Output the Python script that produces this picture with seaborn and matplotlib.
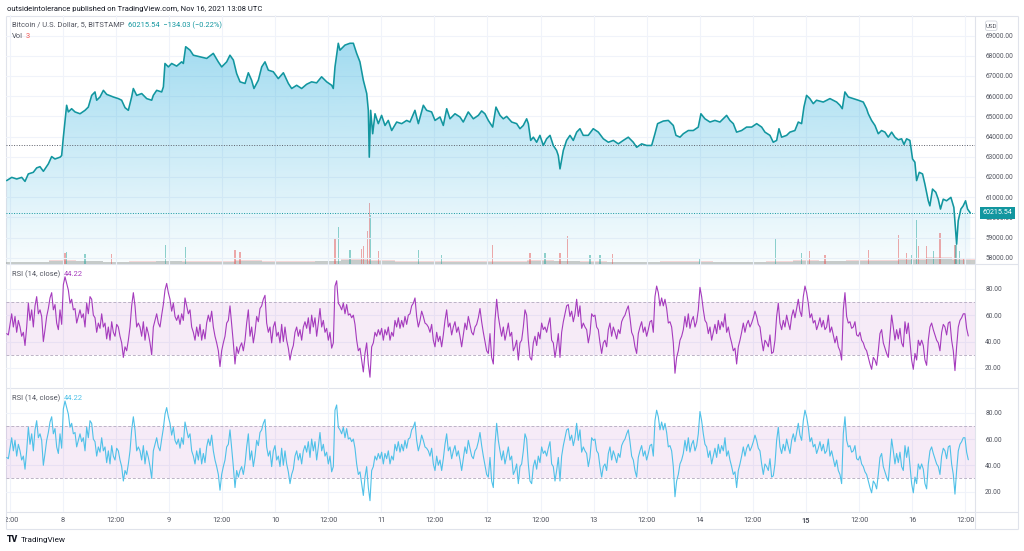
import numpy as np
import matplotlib
matplotlib.use("Agg")
import matplotlib.pyplot as plt
import seaborn as sns
from matplotlib.patches import Polygon, FancyBboxPatch
from matplotlib.transforms import Bbox, TransformedBbox, blended_transform_factory
from matplotlib.colors import LinearSegmentedColormap

sns.set_theme(style="white")
plt.rcParams['font.family'] = ['Roboto', 'DejaVu Sans']

# ---------------- data (x = day of November 2021, UTC) ----------------
price_day = [7.472, 7.520, 7.567, 7.614, 7.645, 7.676, 7.723, 7.755, 7.786, 7.818, 7.865, 7.896, 7.927, 7.975, 7.990,
             8.006, 8.022, 8.037, 8.053, 8.084, 8.116, 8.163, 8.210, 8.241, 8.273, 8.304, 8.320, 8.351, 8.383, 8.414,
             8.477, 8.524, 8.555, 8.587, 8.618, 8.649, 8.665, 8.697, 8.744, 8.791, 8.838, 8.853, 8.885, 8.932, 8.948,
             8.963, 8.995, 9.026, 9.073, 9.120, 9.136, 9.158, 9.199, 9.230, 9.293, 9.356, 9.418, 9.465, 9.497, 9.544,
             9.575, 9.607, 9.638, 9.670, 9.717, 9.748, 9.779, 9.801, 9.842, 9.874, 9.905, 9.936, 9.983, 10.030, 10.078,
             10.125, 10.156, 10.203, 10.250, 10.297, 10.344, 10.391, 10.438, 10.486, 10.533, 10.548, 10.564, 10.595, 10.611, 10.658,
             10.705, 10.737, 10.768, 10.799, 10.831, 10.863, 10.878, 10.887, 10.900, 10.919, 10.941, 10.972, 11.003, 11.035, 11.066,
             11.098, 11.145, 11.192, 11.239, 11.270, 11.317, 11.349, 11.396, 11.427, 11.474, 11.506, 11.553, 11.584, 11.616, 11.647,
             11.694, 11.741, 11.772, 11.819, 11.867, 11.914, 11.945, 11.976, 12.008, 12.049, 12.080, 12.118, 12.149, 12.181, 12.228,
             12.275, 12.306, 12.337, 12.369, 12.385, 12.407, 12.432, 12.463, 12.494, 12.526, 12.557, 12.589, 12.620, 12.651, 12.667,
             12.683, 12.714, 12.745, 12.777, 12.808, 12.840, 12.871, 12.902, 12.949, 12.996, 13.044, 13.091, 13.138, 13.185, 13.232,
             13.279, 13.326, 13.373, 13.405, 13.452, 13.499, 13.546, 13.577, 13.602, 13.656, 13.703, 13.750, 13.775, 13.813, 13.844,
             13.891, 13.938, 13.985, 14.010, 14.048, 14.095, 14.142, 14.189, 14.220, 14.252, 14.283, 14.315, 14.346, 14.393, 14.440,
             14.488, 14.535, 14.582, 14.613, 14.660, 14.691, 14.723, 14.745, 14.770, 14.817, 14.848, 14.895, 14.927, 14.958, 14.980,
             15.005, 15.036, 15.068, 15.099, 15.162, 15.225, 15.288, 15.319, 15.341, 15.366, 15.398, 15.445, 15.492, 15.539, 15.570,
             15.586, 15.617, 15.649, 15.680, 15.711, 15.743, 15.774, 15.806, 15.837, 15.868, 15.900, 15.922, 15.947, 15.978, 16.003,
             16.025, 16.041, 16.066, 16.097, 16.119, 16.151, 16.166, 16.191, 16.222, 16.245, 16.266, 16.292, 16.323, 16.364, 16.392,
             16.418, 16.433, 16.458, 16.480, 16.502, 16.521, 16.547]

price_usd = [61820, 61980, 61900, 61980, 61780, 62150, 62230, 62450, 62510, 62280, 62650, 63010, 62890, 62980, 63060,
             63970, 64800, 65550, 65220, 65380, 65220, 65130, 65300, 65460, 66040, 66210, 65800, 65960, 66290, 66090,
             65960, 65880, 65800, 65430, 65300, 65960, 66380, 66040, 66130, 65880, 65800, 66040, 66290, 66210, 66460,
             67620, 67450, 67620, 67490, 67700, 67620, 68450, 68280, 68030, 67950, 67870, 68120, 67700, 67450, 67700,
             68030, 67790, 67120, 66710, 66630, 67160, 66790, 66380, 66790, 67450, 67700, 67290, 67210, 66870, 67160,
             66630, 66380, 66540, 66380, 66590, 66710, 66660, 66960, 66710, 66540, 66380, 67450, 68620, 68280, 68530,
             68620, 68620, 68120, 67700, 66790, 66130, 65300, 62980, 65300, 64140, 65130, 64640, 65050, 64550, 64800,
             64300, 64720, 64640, 64800, 64720, 65300, 64640, 65550, 65300, 65220, 64800, 64970, 64550, 65380, 64880,
             65130, 64970, 64720, 65220, 64880, 65050, 65270, 65130, 64800, 64470, 65460, 65050, 64880, 65000, 64720,
             64640, 64390, 64550, 64880, 64640, 63810, 63970, 63720, 64060, 63560, 63890, 64060, 63560, 63310, 63060,
             62400, 63310, 63810, 64060, 63810, 64220, 64390, 64060, 64060, 64390, 64220, 63890, 63720, 63810, 63640,
             63810, 63970, 63720, 63470, 63640, 63560, 63560, 64140, 64640, 64770, 64800, 64550, 64060, 63970, 64140,
             64300, 64300, 64470, 65130, 64880, 64720, 64800, 64720, 64880, 65050, 64800, 64640, 64220, 64300, 64470,
             64470, 64640, 64470, 64220, 64060, 63720, 63810, 64390, 63970, 64060, 64220, 64300, 64720, 64640, 65460,
             66040, 65880, 65630, 65800, 65710, 65880, 65710, 65550, 65380, 66210, 65960, 65880, 65800, 65710, 65380,
             65130, 64800, 64550, 64140, 64300, 64220, 63970, 64220, 63970, 63840, 63890, 63610, 63890, 63810, 62890,
             62730, 61820, 62230, 62150, 61650, 60820, 60570, 61400, 61240, 60900, 60410, 60900, 60820, 60990, 60490,
             58670, 59830, 60410, 60570, 60820, 60410, 60215.54]

last_price = 60215.54
prev_close = 63590
price_change = "60215.54  \u2212134.03 (\u22120.22%)"

# RSI(14, close) sampled along the chart every ~22.6 minutes
rsi_start_day = 7.4724
rsi_step_day = 0.015694
rsi_value = [46,45,53,61,51,59,47,56,51,44,47,37,51,69,56,64,51,67,74,61,
             64,59,40,49,59,65,73,77,64,68,54,49,64,53,83,89,84,79,69,72,
             64,65,54,59,64,58,61,51,69,61,74,72,60,58,47,54,50,61,51,54,
             42,51,41,55,47,44,53,51,44,39,28,36,33,41,51,67,77,67,51,54,
             51,44,55,41,51,46,39,30,51,56,61,54,51,60,68,79,84,77,72,63,
             69,59,56,60,53,61,56,73,67,61,64,51,47,41,51,44,53,41,49,42,
             54,60,55,63,51,44,39,33,21,33,39,44,54,56,67,53,39,23,36,31,
             36,39,33,41,54,64,44,51,39,47,59,55,65,67,72,75,54,47,51,39,
             51,55,44,47,39,53,40,51,41,35,26,33,37,47,51,44,49,41,51,55,
             50,58,46,60,51,58,44,54,65,51,56,47,50,41,47,35,39,82,86,69,
             67,64,69,61,68,60,61,58,60,53,41,33,35,26,17,31,39,23,13,36,
             39,47,44,49,45,50,41,49,45,51,41,47,44,56,51,58,50,56,51,59,
             53,60,61,67,69,73,59,51,56,63,59,54,53,51,47,53,41,36,47,40,
             44,36,45,56,64,51,54,45,51,55,47,51,44,36,45,54,49,59,53,47,
             45,51,53,58,65,55,47,40,33,31,46,28,23,56,72,59,51,44,51,41,
             47,54,44,47,
             33,36,41,26,39,41,51,64,60,41,28,26,39,44,37,47,42,54,49,51,
             47,53,58,41,39,28,36,46,28,47,55,61,67,68,59,63,55,61,72,59,
             67,50,54,51,49,39,46,61,59,60,51,49,39,31,39,41,36,49,54,44,
             51,47,42,49,46,55,58,60,64,67,58,47,44,36,31,46,51,55,47,51,
             44,49,55,56,47,74,82,77,67,73,67,72,65,54,55,51,39,16,28,33,
             41,44,49,59,51,61,50,56,59,51,55,64,81,74,64,56,54,46,51,41,
             47,53,46,56,49,55,51,61,47,51,44,39,33,35,23,36,41,47,54,47,
             53,56,51,54,58,63,59,53,51,41,33,41,39,36,45,31,32,41,59,69,
             54,49,56,51,60,54,49,59,64,58,65,72,63,59,74,82,77,69,58,61,
             54,56,49,53,58,51,56,49,51,60,47,51,45,39,44,36,33,26,64,77,
             59,54,55,50,51,55,45,44,47,41,39,35,33,28,23,19,28,26,22,33,
             46,49,39,35,31,28,44,60,51,41,49,42,50,39,36,55,46,54,40,26,
             19,31,26,41,37,41,37,26,22,41,51,54,49,45,41,39,33,47,53,51,
             45,54,55,41,33,18,36,51,56,58,61,61,50,44.22]
rsi_last = "44.22"

# Volume (BTC, 5-minute bars): background level and the visible spikes
vol_base_day = [7.5, 7.75, 8.0, 8.25, 8.5, 8.75, 9.0, 9.25, 9.5, 9.75, 10.0, 10.25, 10.5, 10.75,
                11.0, 11.25, 11.5, 11.75, 12.0, 12.25, 12.5, 12.75, 13.0, 13.25, 13.5, 13.75,
                14.0, 14.25, 14.5, 14.75, 15.0, 15.25, 15.5, 15.75, 16.0, 16.25, 16.5]
vol_base_btc = [10, 10, 18, 14, 10, 12, 14, 12, 12, 16, 12, 12, 14, 24,
                16, 12, 12, 12, 12, 12, 16, 14, 12, 10, 10, 12,
                12, 10, 10, 12, 16, 14, 16, 18, 24, 28, 24]
vol_spike_day = [8.006, 8.022, 8.037, 8.210, 8.461, 8.969, 9.158, 9.622, 9.670, 10.564, 10.595, 10.705, 10.815,
                 10.831, 10.869, 10.887, 10.897, 10.972, 11.349, 11.569, 12.049, 12.400, 12.541, 12.683, 12.752,
                 12.965, 13.059, 13.175, 14.001, 14.714, 14.958, 15.030, 15.178, 15.586, 15.868, 15.947, 15.994,
                 16.041, 16.057, 16.136, 16.198, 16.261, 16.402, 16.411, 16.448, 16.480]
vol_spike_btc = [48, 44, 48, 42, 42, 76, 69, 56, 48, 102, 149, 56, 62,
                 71, 131, 244, 198, 51, 58, 37, 77, 44, 44, 44, 113,
                 37, 37, 40, 24, 104, 44, 51, 37, 57, 115, 44, 37,
                 178, 71, 71, 51, 124, 78, 78, 51, 24]
vol_spike_up = [1, 0, 1, 1, 0, 1, 1, 0, 0, 0, 1, 1, 0,
                0, 0, 0, 1, 0, 1, 1, 0, 0, 1, 0, 0,
                1, 1, 0, 1, 1, 1, 0, 0, 0, 0, 0, 1,
                1, 0, 0, 1, 0, 0, 1, 1, 0]

tick_days = [7.5 + 0.5 * i for i in range(19)]
tick_labels = [("12:00" if d % 1 else str(int(d))) for d in tick_days]
price_ticks = list(range(58000, 70000, 1000))
rsi_ticks = [20, 40, 60, 80]

# ---------------- styling ----------------
TEAL = '#12969f'
PURPLE = '#a53bbd'
CYAN = '#4fc1e8'
GRID = '#f0f3fa'
FRAME = '#e0e3eb'
TXT = '#50535e'
FS = 4.7      # scale labels
LFS = 5.4     # legend texts
TFS = 5.3     # time labels

W, H = 1024, 551
fig = plt.figure(figsize=(W / 100, H / 100), dpi=100, facecolor='white')


def rect(x0, y0, x1, y1):
    return [x0 / W, 1 - y1 / H, (x1 - x0) / W, (y1 - y0) / H]


PL, PR = 6, 975
X0, X1 = 7.466, 16.591
PMIN, PMAX = 57690, 70020
RMIN, RMAX = 4.6, 98.7

ax_bg = fig.add_axes([0, 0, 1, 1], zorder=-5)
ax_bg.set_xlim(0, W)
ax_bg.set_ylim(H, 0)
ax_bg.axis('off')

ax_v = fig.add_axes(rect(PL, 15, PR, 264), zorder=0)
ax_p = fig.add_axes(rect(PL, 15, PR, 264), zorder=1, sharex=ax_v)
ax_r1 = fig.add_axes(rect(PL, 264, PR, 388.3), zorder=1, sharex=ax_v)
ax_r2 = fig.add_axes(rect(PL, 388.3, PR, 511.7), zorder=1, sharex=ax_v)

# foreground overlay for legend texts (kept above grid lines)
ax_fg = fig.add_axes([0, 0, 1, 1], zorder=20)
ax_fg.set_xlim(0, W)
ax_fg.set_ylim(H, 0)
ax_fg.axis('off')
ax_fg.patch.set_visible(False)

# volume: background carpet as overlapping up/down tints, then spikes
ax_v.bar(vol_base_day, vol_base_btc, width=0.25, color='#ef5350', alpha=0.22, linewidth=0)
ax_v.bar(vol_base_day, [v * 0.75 for v in vol_base_btc], width=0.25, color='#26a69a', alpha=0.22, linewidth=0)
spike_colors = ['#26a69a' if u else '#ef5350' for u in vol_spike_up]
ax_v.bar(vol_spike_day, vol_spike_btc, width=0.012, color=spike_colors, alpha=0.5, linewidth=0)
ax_v.set_ylim(0, 996)
ax_v.axis('off')

# price area with gradient
verts = [(price_day[0], PMIN)] + list(zip(price_day, price_usd)) + [(price_day[-1], PMIN)]
poly = Polygon(verts, closed=True, facecolor='none', edgecolor='none')
ax_p.add_patch(poly)
base = (33 / 255, 170 / 255, 220 / 255)
cmap = LinearSegmentedColormap.from_list('area', [base + (0.03,), base + (0.42,)])
grad = np.linspace(1, 0, 256).reshape(-1, 1)
img = ax_p.imshow(grad, extent=[X0, X1, PMIN, 68700], aspect='auto', cmap=cmap, origin='upper', zorder=1)
img.set_clip_path(poly)
sns.lineplot(x=price_day, y=price_usd, ax=ax_p, color=TEAL, linewidth=1.15, zorder=4)
ax_p.axhline(prev_close, color='#5d606b', lw=0.7, ls=(0, (1, 1.6)), zorder=3)
ax_p.axhline(last_price, color=TEAL, lw=0.7, ls=(0, (1, 1.6)), zorder=3)
ax_p.set_ylim(PMIN, PMAX)
ax_p.set_yticks(price_ticks)
ax_p.set_yticklabels([f"{v:.2f}" for v in price_ticks])

# RSI panels
for ax, col in ((ax_r1, PURPLE), (ax_r2, CYAN)):
    ax.axhspan(30, 70, color='#9c27b0', alpha=0.09, lw=0, zorder=1)
    for lvl in (30, 70):
        ax.axhline(lvl, color='#bcb3c6', lw=0.7, ls=(0, (3, 2)), zorder=2)
    rsi_day = [rsi_start_day + i * rsi_step_day for i in range(len(rsi_value))]
    sns.lineplot(x=rsi_day, y=rsi_value, ax=ax, color=col, linewidth=0.8, zorder=4)
    ax.set_ylim(RMIN, RMAX)
    ax.set_yticks(rsi_ticks)
    ax.set_yticklabels([f"{v:.2f}" for v in rsi_ticks])

for ax in (ax_p, ax_r1, ax_r2):
    ax.set_facecolor('none')
    for s in ax.spines.values():
        s.set_visible(False)
    ax.set_xlim(X0, X1)
    ax.set_xlabel('')
    ax.set_ylabel('')
    ax.grid(True, color=GRID, lw=0.8)
    ax.set_axisbelow(True)
    ax.yaxis.tick_right()
    ax.tick_params(axis='y', length=0, pad=7.3, labelsize=FS, labelcolor=TXT)
    ax.tick_params(axis='x', length=0)
ax_r2.set_xticks(tick_days)
ax_r2.set_xticklabels(tick_labels)
ax_p.tick_params(axis='x', labelbottom=False)
ax_r1.tick_params(axis='x', labelbottom=False)
ax_r2.tick_params(axis='x', labelsize=TFS, labelcolor=TXT, pad=3.6)
for lab in ax_r2.get_xticklabels():
    if lab.get_text() == '15':
        lab.set_fontweight('bold')

# last price label on the scale
tr = blended_transform_factory(ax_p.transAxes, ax_p.transData)
ax_p.text(1.0075, last_price, f"{last_price:.2f}", transform=tr, ha='left', va='center',
          color='white', fontsize=5.1, zorder=10, clip_on=False,
          bbox=dict(boxstyle='square,pad=0.38', fc=TEAL, ec='none'))

# frame lines
for (xa, ya, xb, yb) in [(PL, 15.5, 1018, 15.5), (PL, 264, 1018, 264), (PL, 388.3, 1018, 388.3),
                         (PL, 511.7, 1018, 511.7), (PL, 529, 1018, 529),
                         (PL, 15.5, PL, 529), (PR, 15.5, PR, 529), (1018, 15.5, 1018, 529)]:
    ax_bg.plot([xa, xb], [ya, yb], color=FRAME, lw=0.8, solid_capstyle='butt')

# texts
ax_fg.text(7, 9, "outsideintolerance published on TradingView.com, Nov 16, 2021 13:08 UTC",
           fontsize=5.5, color='#131722', va='center', ha='left')
ax_fg.text(11.7, 25, "Bitcoin / U.S. Dollar, 5, BITSTAMP", fontsize=LFS, color=TXT, va='center')
ax_fg.text(128, 25, price_change, fontsize=LFS, color=TEAL, va='center')
ax_fg.text(11.7, 37, "Vol", fontsize=LFS, color=TXT, va='center')
ax_fg.text(26, 37, "3", fontsize=LFS, color='#ef5350', va='center')
ax_fg.text(11.7, 274, "RSI (14, close)", fontsize=LFS, color=TXT, va='center')
ax_fg.text(64, 274, rsi_last, fontsize=LFS, color=PURPLE, va='center')
ax_fg.text(11.7, 398, "RSI (14, close)", fontsize=LFS, color=TXT, va='center')
ax_fg.text(64, 398, rsi_last, fontsize=LFS, color=CYAN, va='center')
ax_fg.add_patch(FancyBboxPatch((985.5, 21.0), 11.5, 9.5, boxstyle='round,pad=0,rounding_size=1.8',
                               fc='white', ec='#d1d4dc', lw=0.6))
ax_fg.text(991.3, 26.0, "USD", fontsize=4.4, color=TXT, va='center', ha='center')
ax_fg.text(6.5, 540, "TV", fontsize=6.3, color='#131722', va='center', ha='left', fontweight='heavy')
ax_fg.text(21, 540, "TradingView", fontsize=5.9, color='#131722', va='center', ha='left')

# clip time labels to the chart area (first label is cut by the frame)
fig.canvas.draw()
clipbox = TransformedBbox(Bbox([[PL / W, 0], [PR / W, 1]]), fig.transFigure)
for t in ax_r2.xaxis.get_major_ticks():
    t.label1.set_clip_box(clipbox)
    t.label1.set_clip_on(True)

fig.savefig("out.png", dpi=100, facecolor='white')
